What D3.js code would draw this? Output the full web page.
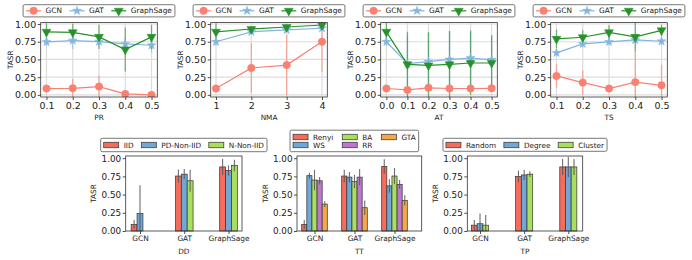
<!DOCTYPE html>
<html><head><meta charset="utf-8">
<script src="https://cdn.jsdelivr.net/npm/d3@7"></script>
<style>
body{margin:0;background:#fff}
svg{display:block}
text{font-family:"DejaVu Sans",sans-serif;fill:#222}
</style>
</head><body>
<svg id="c" width="692" height="260"></svg>
<script>
// ---------------- DATA ----------------
const seriesNames = ["GCN", "GAT", "GraphSage"];
const yTickValues = [0, 0.25, 0.5, 0.75, 1.0];

// PR panel
const prX = [0.1, 0.2, 0.3, 0.4, 0.5];
const prGCN = [0.089, 0.093, 0.117, 0.014, 0.0];
const prGCNErr = [0.05, 0.13, 0.16, 0.02, 0.01];
const prGAT = [0.748, 0.766, 0.752, 0.72, 0.70];
const prGATErr = [0.06, 0.12, 0.05, 0.08, 0.1];
const prSage = [0.89, 0.883, 0.818, 0.64, 0.818];
const prSageErr = [0.12, 0.12, 0.17, 0.31, 0.17];

// NMA panel
const nmaX = [1, 2, 3, 4];
const nmaGCN = [0.09, 0.38, 0.42, 0.75];
const nmaGCNErr = [0.05, 0.35, 0.43, 0.43];
const nmaGAT = [0.75, 0.89, 0.916, 0.94];
const nmaGATErr = [0.06, 0.03, 0.03, 0.03];
const nmaSage = [0.89, 0.93, 0.958, 0.986];
const nmaSageErr = [0.12, 0.03, 0.03, 0.02];

// AT panel
const atX = [0.0, 0.1, 0.2, 0.3, 0.4, 0.5];
const atGCN = [0.09, 0.07, 0.10, 0.09, 0.09, 0.093];
const atGCNErr = [0.03, 0.03, 0.03, 0.03, 0.03, 0.03];
const atGAT = [0.75, 0.44, 0.47, 0.50, 0.52, 0.495];
const atGATErr = [0.06, 0.4, 0.4, 0.4, 0.4, 0.35];
const atSage = [0.89, 0.43, 0.415, 0.43, 0.45, 0.45];
const atSageErr = [0.13, 0.46, 0.47, 0.47, 0.45, 0.39];

// TS panel
const tsX = [0.1, 0.2, 0.3, 0.4, 0.5];
const tsGCN = [0.267, 0.173, 0.089, 0.18, 0.135];
const tsGCNErr = [0.165, 0.17, 0.04, 0.42, 0.29];
const tsGAT = [0.593, 0.72, 0.748, 0.776, 0.757];
const tsGATErr = [0.05, 0.05, 0.05, 0.05, 0.05];
const tsSage = [0.79, 0.813, 0.883, 0.818, 0.911];
const tsSageErr = [0.13, 0.1, 0.1, 0.21, 0.08];

// Bar panels
const barCategories = ["GCN", "GAT", "GraphSage"];

const ddSeries = ["IID", "PD-Non-IID", "N-Non-IID"];
const ddValues = [[0.09, 0.755, 0.88], [0.24, 0.78, 0.83], [0.0, 0.69, 0.90]];
const ddErr = [[0.06, 0.09, 0.11], [0.39, 0.07, 0.07], [0.0, 0.15, 0.08]];

const ttSeries = ["Renyi", "WS", "BA", "RR", "GTA"];
const ttValues = [[0.09, 0.755, 0.886], [0.76, 0.74, 0.62], [0.70, 0.68, 0.755], [0.69, 0.74, 0.64], [0.37, 0.32, 0.42]];
const ttErr = [[0.06, 0.085, 0.1], [0.04, 0.07, 0.09], [0.14, 0.09, 0.11], [0.05, 0.11, 0.06], [0.04, 0.1, 0.07]];

const tpSeries = ["Random", "Degree", "Cluster"];
const tpValues = [[0.08, 0.75, 0.88], [0.10, 0.77, 0.88], [0.08, 0.78, 0.88]];
const tpErr = [[0.07, 0.08, 0.11], [0.14, 0.07, 0.14], [0.14, 0.04, 0.11]];

// ---------------- STYLE / LAYOUT ----------------
const lineColors = {GCN: "#fa8072", GAT: "#82b5e0", GraphSage: "#27922a"};
const markerTypes = {GCN: d3.symbolCircle, GAT: d3.symbolStar, GraphSage: d3.symbolTriangle};
const markerSizes = {GCN: 44, GAT: 24, GraphSage: 34};
const barPalette = ["#f46c5c", "#6fa7d5", "#aade5e", "#bb78cc", "#f7a64b"];

const svg = d3.select("#c");

function styleAxis(g, fs) {
  g.select(".domain").remove();
  g.selectAll(".tick line").attr("stroke", "#222").attr("stroke-width", 0.8);
  g.selectAll(".tick text").attr("font-size", fs).attr("fill", "#222");
}

function linePanel(cfg) {
  const {x0, x1, y0, y1, xDomain, xTicks, fmt, xLabel, series} = cfg;
  const x = d3.scaleLinear().domain(xDomain).range([x0, x1]);
  const y = d3.scaleLinear().domain([-0.03, 1.02]).range([y1, y0]);
  const g = svg.append("g");
  const clipId = "clip" + xLabel;
  svg.append("clipPath").attr("id", clipId).append("rect")
    .attr("x", x0).attr("y", y0).attr("width", x1 - x0).attr("height", y1 - y0);

  // grid
  g.selectAll(".gy").data(yTickValues).join("line")
    .attr("x1", x0).attr("x2", x1).attr("y1", d => y(d)).attr("y2", d => y(d))
    .attr("stroke", "#dcdcdc").attr("stroke-width", 1.2);
  g.selectAll(".gx").data(xTicks).join("line")
    .attr("y1", y0).attr("y2", y1).attr("x1", d => x(d)).attr("x2", d => x(d))
    .attr("stroke", "#dcdcdc").attr("stroke-width", 1.2);

  const pg = g.append("g").attr("clip-path", `url(#${clipId})`);
  series.forEach(s => {
    const col = lineColors[s.name];
    const pts = s.xs.map((xv, i) => ({x: xv, y: s.ys[i], e: s.err[i]}));
    pg.append("g").selectAll("line").data(pts).join("line")
      .attr("x1", d => x(d.x)).attr("x2", d => x(d.x))
      .attr("y1", d => y(d.y - d.e)).attr("y2", d => y(d.y + d.e))
      .attr("stroke", col).attr("stroke-width", 1.3).attr("opacity", 0.6);
  });
  series.forEach(s => {
    const col = lineColors[s.name];
    const pts = s.xs.map((xv, i) => ({x: xv, y: s.ys[i]}));
    pg.append("path").datum(pts)
      .attr("d", d3.line().x(d => x(d.x)).y(d => y(d.y)))
      .attr("fill", "none").attr("stroke", col).attr("stroke-width", 1.2);
    const sym = d3.symbol().type(markerTypes[s.name]).size(markerSizes[s.name]);
    pg.append("g").selectAll("path").data(pts).join("path")
      .attr("d", sym)
      .attr("transform", d => `translate(${x(d.x)},${y(d.y)})` + (s.name === "GraphSage" ? " rotate(180)" : ""))
      .attr("fill", col).attr("stroke", col).attr("stroke-width", 0.5);
  });

  // axes
  const ax = g.append("g").attr("transform", `translate(0,${y1})`)
    .call(d3.axisBottom(x).tickValues(xTicks).tickFormat(fmt).tickSize(3).tickPadding(2));
  styleAxis(ax, 9.5);
  const ay = g.append("g").attr("transform", `translate(${x0},0)`)
    .call(d3.axisLeft(y).tickValues(yTickValues).tickFormat(d3.format(".2f")).tickSize(3).tickPadding(1.5));
  styleAxis(ay, 9.5);

  g.append("rect").attr("x", x0).attr("y", y0).attr("width", x1 - x0).attr("height", y1 - y0)
    .attr("fill", "none").attr("stroke", "#333").attr("stroke-width", 0.8);

  g.append("text").attr("x", (x0 + x1) / 2).attr("y", 120).attr("text-anchor", "middle")
    .attr("font-size", 7.3).text(xLabel);
  g.append("text").attr("transform", `translate(${x0 - 30},${(y0 + y1) / 2}) rotate(-90)`)
    .attr("text-anchor", "middle").attr("dy", "0.35em").attr("font-size", 7.3).text("TASR");

  // legend
  const lg = svg.append("g");
  const fs = 7.4, handle = 15, pad = 4.5, colsp = 7.5, bpad = 3;
  const items = seriesNames.map(n => {
    const t = lg.append("text").attr("font-size", fs).attr("dy", "0.35em").text(n);
    return {n, t, w: t.node().getComputedTextLength()};
  });
  const total = d3.sum(items, d => d.w) + items.length * (handle + pad) + (items.length - 1) * colsp + 2 * bpad;
  const lx = (x0 + x1) / 2 - total / 2, ly0 = 4.7, ly1 = 16.9, cy = (ly0 + ly1) / 2;
  lg.insert("rect", "text").attr("x", lx).attr("y", ly0).attr("width", total).attr("height", ly1 - ly0)
    .attr("rx", 1.5).attr("fill", "#fff").attr("stroke", "#555").attr("stroke-width", 0.8);
  let cx = lx + bpad;
  items.forEach(it => {
    const col = lineColors[it.n];
    lg.append("line").attr("x1", cx).attr("x2", cx + handle).attr("y1", cy).attr("y2", cy)
      .attr("stroke", col).attr("stroke-width", 1.2);
    lg.append("path").attr("d", d3.symbol().type(markerTypes[it.n]).size(markerSizes[it.n]))
      .attr("transform", `translate(${cx + handle / 2},${cy})` + (it.n === "GraphSage" ? " rotate(180)" : ""))
      .attr("fill", col).attr("stroke", col).attr("stroke-width", 0.5);
    it.t.attr("x", cx + handle + pad).attr("y", cy);
    cx += handle + pad + it.w + colsp;
  });
}

function mk(name, xs, ys, err) { return {name, xs, ys, err}; }

const f1 = d3.format(".1f"), f0 = d3.format("d");
linePanel({x0: 40.7, x1: 157.3, y0: 22.6, y1: 97, xDomain: [0.078, 0.522], xTicks: prX, fmt: f1, xLabel: "PR",
  series: [mk("GCN", prX, prGCN, prGCNErr), mk("GAT", prX, prGAT, prGATErr), mk("GraphSage", prX, prSage, prSageErr)]});
linePanel({x0: 210.7, x1: 327.3, y0: 22.6, y1: 97, xDomain: [0.85, 4.15], xTicks: nmaX, fmt: f0, xLabel: "NMA",
  series: [mk("GCN", nmaX, nmaGCN, nmaGCNErr), mk("GAT", nmaX, nmaGAT, nmaGATErr), mk("GraphSage", nmaX, nmaSage, nmaSageErr)]});
linePanel({x0: 380.7, x1: 497.3, y0: 22.6, y1: 97, xDomain: [-0.027, 0.527], xTicks: atX, fmt: f1, xLabel: "AT",
  series: [mk("GCN", atX, atGCN, atGCNErr), mk("GAT", atX, atGAT, atGATErr), mk("GraphSage", atX, atSage, atSageErr)]});
linePanel({x0: 550.7, x1: 667.3, y0: 22.6, y1: 97, xDomain: [0.078, 0.522], xTicks: tsX, fmt: f1, xLabel: "TS",
  series: [mk("GCN", tsX, tsGCN, tsGCNErr), mk("GAT", tsX, tsGAT, tsGATErr), mk("GraphSage", tsX, tsSage, tsSageErr)]});

// ---------------- BAR PANELS ----------------
function barPanel(cfg) {
  const {x0, x1, y0, y1, xDomain, barW, names, values, errs, xLabel, legend} = cfg;
  const x = d3.scaleLinear().domain(xDomain).range([x0, x1]);
  const y = d3.scaleLinear().domain([0, 1.03]).range([y1, y0]);
  const g = svg.append("g");
  const n = names.length;
  const bars = [];
  names.forEach((nm, si) => barCategories.forEach((c, ci) => {
    bars.push({si, ci, v: values[si][ci], e: errs[si][ci], xc: ci + (si - (n - 1) / 2) * barW});
  }));
  g.selectAll("rect.bar").data(bars).join("rect").attr("class", "bar")
    .attr("x", d => x(d.xc - barW / 2)).attr("width", d => x(d.xc + barW / 2) - x(d.xc - barW / 2))
    .attr("y", d => y(d.v)).attr("height", d => y(0) - y(d.v))
    .attr("fill", d => barPalette[d.si]).attr("stroke", "#333").attr("stroke-width", 0.7);
  g.selectAll("line.err").data(bars.filter(d => d.e > 0)).join("line").attr("class", "err")
    .attr("x1", d => x(d.xc)).attr("x2", d => x(d.xc))
    .attr("y1", d => y(Math.max(0, d.v - d.e))).attr("y2", d => y(d.v + d.e))
    .attr("stroke", "#555").attr("stroke-width", 1.1).attr("opacity", 0.85);

  const ax = g.append("g").attr("transform", `translate(0,${y1})`)
    .call(d3.axisBottom(x).tickValues([0, 1, 2]).tickFormat(i => barCategories[i]).tickSize(3).tickPadding(2));
  styleAxis(ax, 7.4);
  const ay = g.append("g").attr("transform", `translate(${x0},0)`)
    .call(d3.axisLeft(y).tickValues(yTickValues).tickFormat(d3.format(".2f")).tickSize(3).tickPadding(1.5));
  styleAxis(ay, 8.8);
  g.append("rect").attr("x", x0).attr("y", y0).attr("width", x1 - x0).attr("height", y1 - y0)
    .attr("fill", "none").attr("stroke", "#333").attr("stroke-width", 0.8);
  g.append("text").attr("x", (x0 + x1) / 2).attr("y", 254).attr("text-anchor", "middle")
    .attr("font-size", 7.3).text(xLabel);
  g.append("text").attr("transform", `translate(${x0 - 32},${(y0 + y1) / 2}) rotate(-90)`)
    .attr("text-anchor", "middle").attr("dy", "0.35em").attr("font-size", 7.3).text("TASR");

  // legend
  const lg = svg.append("g");
  const fs = 7.3, pw = 15, ph = 5.5, pad = 5, colsp = legend.colsp, bpad = 3;
  const ncol = legend.ncol, nrow = Math.ceil(n / ncol);
  const items = names.map((nm, i) => {
    const t = lg.append("text").attr("font-size", fs).attr("dy", "0.35em").text(nm);
    return {nm, i, t, w: t.node().getComputedTextLength(), col: Math.floor(i / nrow), row: i % nrow};
  });
  const colW = d3.range(ncol).map(c => d3.max(items.filter(d => d.col === c), d => d.w));
  const total = d3.sum(colW) + ncol * (pw + pad) + (ncol - 1) * colsp + 2 * bpad;
  const lx = (x0 + x1) / 2 - total / 2 + (legend.dx || 0);
  lg.insert("rect", "text").attr("x", lx).attr("y", legend.top).attr("width", total).attr("height", legend.bottom - legend.top)
    .attr("rx", 1.5).attr("fill", "#fff").attr("stroke", "#555").attr("stroke-width", 0.8);
  const colX = [];
  let cx = lx + bpad;
  colW.forEach(w => { colX.push(cx); cx += pw + pad + w + colsp; });
  items.forEach(it => {
    const cy = legend.rowY[it.row];
    lg.append("rect").attr("x", colX[it.col]).attr("y", cy - ph / 2).attr("width", pw).attr("height", ph)
      .attr("fill", barPalette[it.i]).attr("stroke", "#333").attr("stroke-width", 0.7);
    it.t.attr("x", colX[it.col] + pw + pad).attr("y", cy);
  });
}

barPanel({x0: 125.7, x1: 242, y0: 156, y1: 231, xDomain: [-0.323, 2.305], barW: 0.133,
  names: ddSeries, values: ddValues, errs: ddErr, xLabel: "DD",
  legend: {ncol: 3, colsp: 7.7, top: 138.3, bottom: 151.7, rowY: [145]}});
barPanel({x0: 297, x1: 421.7, y0: 156, y1: 231, xDomain: [-0.4375, 2.68], barW: 0.128,
  names: ttSeries, values: ttValues, errs: ttErr, xLabel: "TT",
  legend: {ncol: 3, colsp: 9, top: 130.2, bottom: 151.7, rowY: [137, 145], dx: -5}});
barPanel({x0: 467.3, x1: 582.7, y0: 156, y1: 231, xDomain: [-0.288, 2.326], barW: 0.129,
  names: tpSeries, values: tpValues, errs: tpErr, xLabel: "TP",
  legend: {ncol: 3, colsp: 7.7, top: 138.3, bottom: 151.3, rowY: [145]}});
</script>
</body></html>
